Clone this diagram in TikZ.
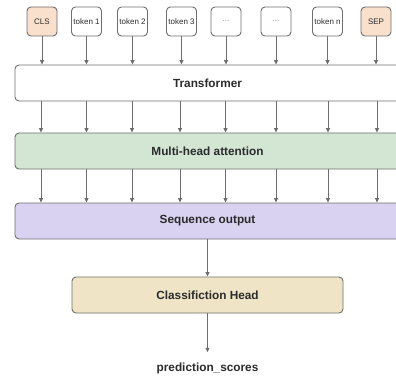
\documentclass[tikz,border=0pt]{standalone}
\usepackage{fontspec}
\setmainfont{Liberation Sans}
\usetikzlibrary{arrows.meta}
\definecolor{edge}{HTML}{6E6E6E}
\definecolor{txt}{HTML}{2B2B2B}
\definecolor{dots}{HTML}{8A8A8A}
\definecolor{peach}{HTML}{F8E0CD}
\definecolor{mint}{HTML}{D2E6D3}
\definecolor{lilac}{HTML}{D9D2F0}
\definecolor{sand}{HTML}{EFE4C6}
\begin{document}
\begin{tikzpicture}[x=1pt,y=-1pt,
  tokbox/.style={draw=edge,line width=0.9pt,rounded corners=4pt,minimum width=30pt,minimum height=29pt,inner sep=0pt,font=\fontsize{8}{9}\selectfont,text=txt},
  layer/.style={draw=edge,line width=0.9pt,rounded corners=4pt,inner sep=0pt,font=\fontsize{11.8}{13}\selectfont\bfseries,text=txt},
  lbl/.style={font=\fontsize{11.8}{13}\selectfont\bfseries,text=txt},
  arr/.style={draw=edge,line width=0.8pt,-{Triangle[length=4.5pt,width=4pt]}}]
\useasboundingbox (0,0) rectangle (396,377);
\clip (0,0) rectangle (396,377);
% token boxes
\node[tokbox,fill=peach] (t1) at (42,21.5) {CLS};
\node[tokbox,fill=white] (t2) at (86.5,21.5) {token 1};
\node[tokbox,fill=white] (t3) at (132.5,21.5) {token 2};
\node[tokbox,fill=white] (t4) at (181.5,21.5) {token 3};
\node[tokbox,fill=white,text=dots] (t5) at (226,21.5) {...};
\node[tokbox,fill=white,text=dots] (t6) at (276,21.5) {...};
\node[tokbox,fill=white] (t7) at (327.5,21.5) {token n};
\node[tokbox,fill=peach] (t8) at (376,21.5) {SEP};
% layers
\node[layer,fill=white,minimum width=385pt,minimum height=36pt] (tr) at (207.5,83) {};
\node[lbl] (trl) at (207.5,83) {Transformer};
\node[layer,fill=mint,minimum width=385pt,minimum height=36pt] (mh) at (207.5,151) {};
\node[lbl] (mhl) at (207.5,151) {Multi-head attention};
\node[layer,fill=lilac,minimum width=385pt,minimum height=36pt] (so) at (207.5,221) {};
\node[lbl] (sol) at (207.5,221) {Sequence output};
\node[layer,fill=sand,minimum width=271pt,minimum height=36pt] (ch) at (207.5,295) {Classifiction Head};
\node[lbl,inner sep=1pt] (ps) at (207.5,368) {prediction\_scores};
% arrows tokens -> transformer
\foreach \i in {1,...,8} {
  \draw[arr] (t\i.south) -- (t\i.south |- tr.north);
}
% transformer -> multi-head, multi-head -> sequence output
\foreach \i/\x in {1/41,2/86.5,3/132,4/180,5/225.5,6/276,7/328,8/377} {
  \coordinate (a\i) at (\x,101);
  \draw[arr] (a\i |- tr.south) -- (a\i |- mh.north);
  \draw[arr] (a\i |- mh.south) -- (a\i |- so.north);
}
\draw[arr] (so.south -| ch.north) -- (ch.north);
\draw[arr] (ch.south) -- ([yshift=9pt]ps.north);
\end{tikzpicture}
\end{document}
